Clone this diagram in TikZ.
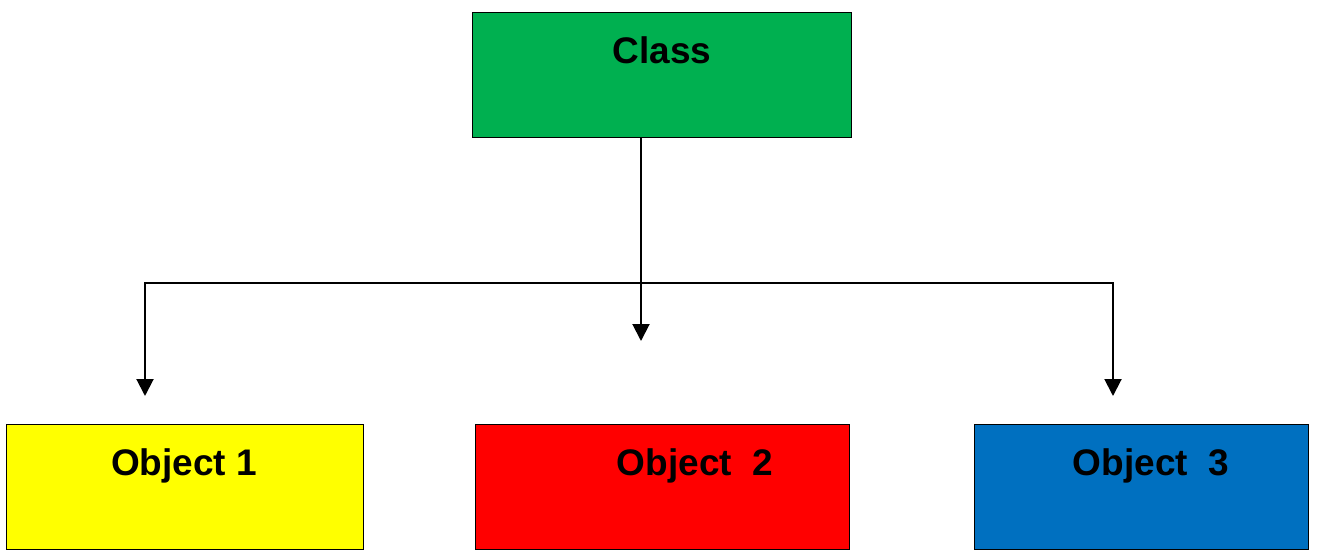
\documentclass[tikz,border=0pt]{standalone}
\usepackage{fontspec}
\setmainfont{Liberation Sans}
\usetikzlibrary{arrows.meta}
\definecolor{cgreen}{HTML}{00B050}
\definecolor{cyellow}{HTML}{FFFF00}
\definecolor{cred}{HTML}{FF0000}
\definecolor{cblue}{HTML}{0070C0}
\tikzset{
  box/.style={draw=black, line width=1.2pt, anchor=north west, inner sep=0pt},
  lbl/.style={anchor=base, inner sep=0pt, font=\fontsize{37}{40}\selectfont\bfseries},
  conn/.style={line width=2pt, draw=black},
  arr/.style={conn, -{Triangle[width=17pt,length=17pt]}}
}
\begin{document}
\begin{tikzpicture}[x=1pt,y=-1pt]
\useasboundingbox (0,0) rectangle (1318,554);
\node[box, fill=cgreen, minimum width=379pt, minimum height=125pt] (cls) at (472,12) {};
\node[box, fill=cyellow, minimum width=357pt, minimum height=125pt] (o1) at (6,424) {};
\node[box, fill=cred, minimum width=374pt, minimum height=125pt] (o2) at (475,424) {};
\node[box, fill=cblue, minimum width=334pt, minimum height=125pt] (o3) at (974,424) {};
\node[lbl] (tcls) at (662,63) {Class};
\node[lbl] (to1) at (184,475) {Object 1};
\node[lbl] (to2) at (695,475) {Object\ \ 2};
\node[lbl] (to3) at (1151,475) {Object\ \ 3};
\coordinate (top) at (641,137);
\coordinate (mid) at (641,341);
\coordinate (jl) at (145,283);
\coordinate (jr) at (1113,283);
\coordinate (el) at (145,396);
\coordinate (er) at (1113,396);
\draw[arr] (top) -- (mid);
\draw[arr] (jr) -- (jl) -- (el);
\draw[arr] (jl) -- (jr) -- (er);
\end{tikzpicture}
\end{document}
